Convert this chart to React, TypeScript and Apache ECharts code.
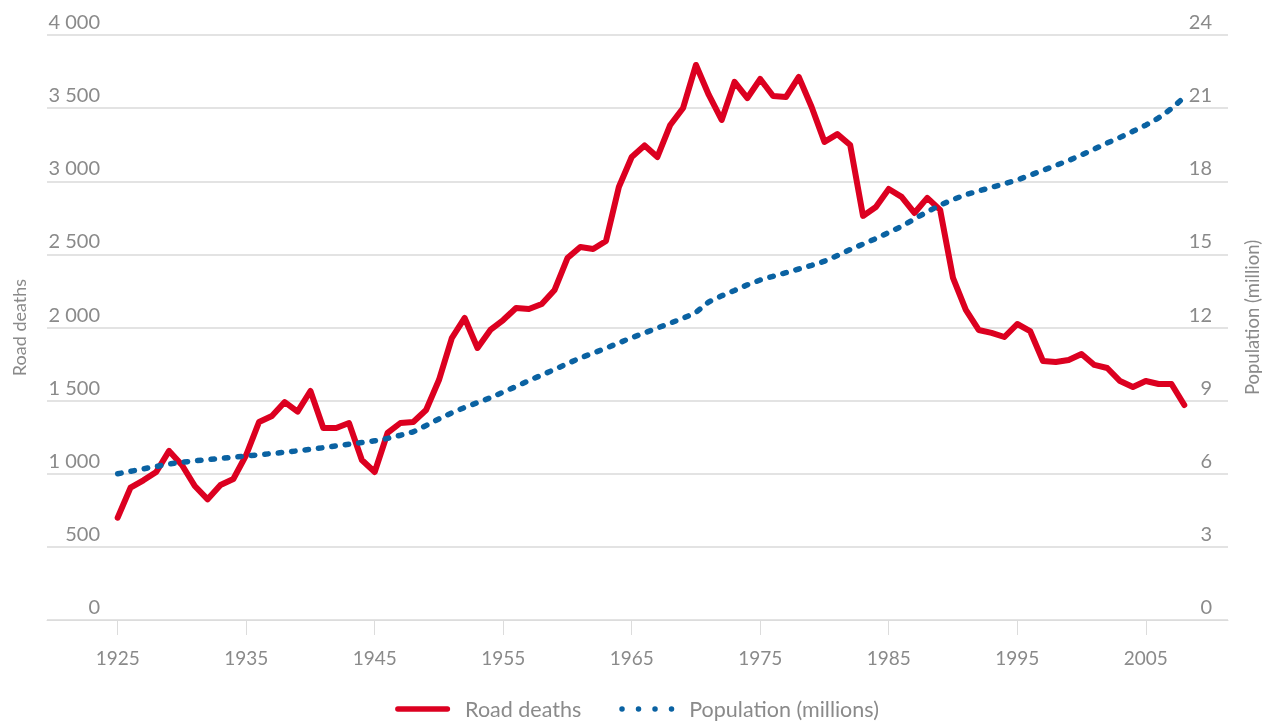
import React, { useEffect, useRef } from "react";
import * as echarts from "echarts";

const years: number[] = [];
for (let y = 1925; y <= 2008; y++) years.push(y);

const roadDeaths = [
  700, 905, 955, 1012, 1156, 1060, 916, 825, 923, 964,
  1128, 1354, 1395, 1490, 1425, 1566, 1313, 1313, 1347, 1094,
  1012, 1279, 1347, 1354, 1436, 1641, 1928, 2065, 1860, 1983,
  2051, 2133, 2126, 2161, 2257, 2475, 2551, 2537, 2592, 2961,
  3166, 3245, 3166, 3385, 3501, 3795, 3590, 3419, 3679, 3569,
  3699, 3583, 3576, 3713, 3508, 3269, 3322, 3248, 2763, 2824,
  2947, 2893, 2783, 2886, 2804, 2339, 2120, 1983, 1963, 1935,
  2024, 1976, 1771, 1764, 1778, 1819, 1744, 1723, 1634, 1593,
  1634, 1614, 1614, 1470,
];

const population = [
  6.0, 6.1, 6.2, 6.3, 6.4, 6.47, 6.53, 6.58, 6.63, 6.68,
  6.73, 6.78, 6.83, 6.88, 6.94, 7.0, 7.07, 7.14, 7.21, 7.28,
  7.35, 7.45, 7.58, 7.72, 7.98, 8.25, 8.5, 8.72, 8.92, 9.12,
  9.35, 9.58, 9.82, 10.05, 10.28, 10.52, 10.75, 10.95, 11.15, 11.37,
  11.58, 11.78, 11.98, 12.18, 12.38, 12.62, 13.05, 13.3, 13.52, 13.75,
  13.95, 14.1, 14.25, 14.4, 14.55, 14.72, 14.95, 15.2, 15.42, 15.65,
  15.9, 16.15, 16.45, 16.75, 17.02, 17.25, 17.45, 17.6, 17.75, 17.9,
  18.05, 18.25, 18.45, 18.65, 18.85, 19.08, 19.32, 19.57, 19.8, 20.05,
  20.3, 20.6, 20.98, 21.45,
];

const xLabels = [1925, 1935, 1945, 1955, 1965, 1975, 1985, 1995, 2005];
const leftTicks = { min: 0, max: 4000, interval: 500 };
const rightTicks = { min: 0, max: 24, interval: 3 };

const FONT = "Lato, 'Open Sans', sans-serif";
const GREY = "#8a8a8a";
const RED = "#dc0020";
const BLUE = "#0a62a2";

const redIcon = "path://M3,0 L57,0 A3,3 0 0 1 57,6 L3,6 A3,3 0 0 1 3,0 Z";
const blueIcon =
  "path://M0,3 A3,3 0 1 0 6,3 A3,3 0 1 0 0,3 Z M18,3 A3,3 0 1 0 24,3 A3,3 0 1 0 18,3 Z M36,3 A3,3 0 1 0 42,3 A3,3 0 1 0 36,3 Z M54,3 A3,3 0 1 0 60,3 A3,3 0 1 0 54,3 Z";

export default function App() {
  const ref = useRef<HTMLDivElement>(null);
  useEffect(() => {
    if (!ref.current) return;
    const chart = echarts.init(ref.current, undefined, { renderer: "svg" });
    chart.setOption({
      animation: false,
      textStyle: { fontFamily: FONT },
      grid: { left: 47, right: 46, top: 35, bottom: 102, outerBoundsMode: "none", containLabel: false },
      legend: {
        bottom: -3,
        left: "center",
        itemWidth: 55,
        itemHeight: 6,
        itemGap: 38,
        textStyle: { color: GREY, fontSize: 21.5, fontFamily: FONT, padding: [0, 0, 0, 10] },
        data: [
          { name: "Road deaths", icon: redIcon, itemStyle: { color: RED } },
          { name: "Population (millions)", icon: blueIcon, itemStyle: { color: BLUE } },
        ],
      },
      xAxis: {
        type: "value",
        min: 1919.5,
        max: 2011.4,
        axisLine: { show: true, lineStyle: { color: "#dcdcdc", width: 1 } },
        axisTick: {
          show: true,
          length: 15,
          customValues: xLabels,
          lineStyle: { color: "#dcdcdc" },
        },
        axisLabel: {
          customValues: xLabels,
          color: GREY,
          fontSize: 19,
          margin: 28,
          formatter: (v: number) => String(v),
        },
        splitLine: { show: false },
      },
      yAxis: [
        {
          type: "value",
          ...leftTicks,
          name: "Road deaths",
          nameLocation: "middle",
          nameGap: 19,
          nameRotate: 90,
          nameTextStyle: { color: GREY, fontSize: 18 },
          axisLine: { show: false },
          axisTick: { show: false },
          axisLabel: {
            inside: true,
            align: "right",
            verticalAlign: "bottom",
            margin: 53,
            color: GREY,
            fontSize: 20,
            padding: [0, 0, 4, 0],
            formatter: (v: number) =>
              v >= 1000 ? Math.floor(v / 1000) + " " + String(v % 1000).padStart(3, "0") : String(v),
          },
          splitLine: { show: true, lineStyle: { color: "#e3e3e3", width: 2 } },
        },
        {
          type: "value",
          ...rightTicks,
          name: "Population (million)",
          nameLocation: "middle",
          nameGap: 14,
          nameRotate: 90,
          nameTextStyle: { color: GREY, fontSize: 18.5, padding: [0, 0, 0, 20] },
          axisLine: { show: false },
          axisTick: { show: false },
          axisLabel: {
            inside: true,
            align: "right",
            verticalAlign: "bottom",
            margin: 16,
            color: GREY,
            fontSize: 20,
            padding: [0, 0, 4, 0],
          },
          splitLine: { show: false },
        },
      ],
      series: [
        {
          name: "Road deaths",
          type: "line",
          yAxisIndex: 0,
          data: years.map((y, i) => [y, roadDeaths[i]]),
          showSymbol: false,
          symbol: "none",
          color: RED,
          lineStyle: { color: RED, width: 6, cap: "round", join: "round" },
          z: 2,
        },
        {
          name: "Population (millions)",
          type: "line",
          yAxisIndex: 1,
          data: years.map((y, i) => [y, population[i]]),
          showSymbol: false,
          symbol: "none",
          color: BLUE,
          lineStyle: {
            color: BLUE,
            width: 5.5,
            type: [3.5, 10],
            cap: "round",
          },
          z: 3,
        },
      ],
    });
    return () => chart.dispose();
  }, []);
  return (
    <div
      ref={ref}
      style={{ position: "fixed", left: 0, top: 0, width: 1274, height: 722 }}
    />
  );
}
